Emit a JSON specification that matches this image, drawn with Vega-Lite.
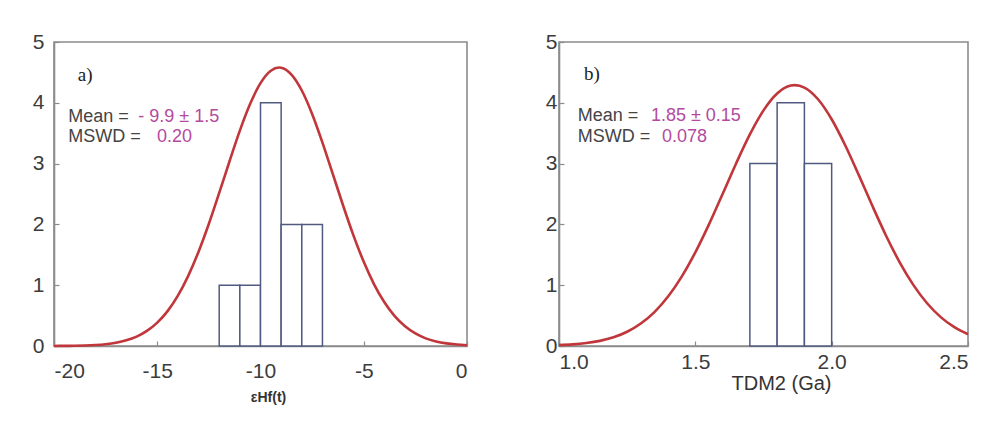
{
  "$schema": "https://vega.github.io/schema/vega-lite/v6.json",
  "background": "white",
  "padding": {"left": 31, "top": 30, "right": 4, "bottom": 4},
  "spacing": 71,
  "config": {
    "font": "Liberation Sans",
    "view": {"stroke": "#8c8c8c", "strokeWidth": 1.6},
    "axis": {
      "grid": false,
      "domainColor": "#8c8c8c",
      "domainWidth": 1.6,
      "tickColor": "#8c8c8c",
      "tickWidth": 1.2,
      "tickSize": -5,
      "labelFontSize": 21,
      "labelColor": "#3c3c3c",
      "labelFont": "Liberation Sans",
      "titleColor": "#333333",
      "titleFont": "Liberation Sans"
    }
  },
  "datasets": {
    "binsA": [
      {"x0": -12, "x1": -11, "count": 1},
      {"x0": -11, "x1": -10, "count": 1},
      {"x0": -10, "x1": -9, "count": 4},
      {"x0": -9, "x1": -8, "count": 2},
      {"x0": -8, "x1": -7, "count": 2}
    ],
    "binsB": [
      {"x0": 1.7, "x1": 1.8, "count": 3},
      {"x0": 1.8, "x1": 1.9, "count": 4},
      {"x0": 1.9, "x1": 2.0, "count": 3}
    ],
    "curveA": [
      {"x": -20, "y": 0.001}, {"x": -19.5, "y": 0.002}, {"x": -19, "y": 0.004}, {"x": -18.5, "y": 0.008},
      {"x": -18, "y": 0.016}, {"x": -17.5, "y": 0.030}, {"x": -17, "y": 0.054}, {"x": -16.5, "y": 0.093},
      {"x": -16, "y": 0.154}, {"x": -15.5, "y": 0.248}, {"x": -15, "y": 0.384}, {"x": -14.5, "y": 0.574},
      {"x": -14, "y": 0.829}, {"x": -13.5, "y": 1.154}, {"x": -13, "y": 1.551}, {"x": -12.5, "y": 2.011},
      {"x": -12, "y": 2.517}, {"x": -11.5, "y": 3.039}, {"x": -11, "y": 3.542}, {"x": -10.5, "y": 3.983},
      {"x": -10, "y": 4.324}, {"x": -9.5, "y": 4.528}, {"x": -9.1, "y": 4.58}, {"x": -9, "y": 4.577},
      {"x": -8.5, "y": 4.464}, {"x": -8, "y": 4.202}, {"x": -7.5, "y": 3.817}, {"x": -7, "y": 3.346},
      {"x": -6.5, "y": 2.830}, {"x": -6, "y": 2.311}, {"x": -5.5, "y": 1.820}, {"x": -5, "y": 1.384},
      {"x": -4.5, "y": 1.015}, {"x": -4, "y": 0.719}, {"x": -3.5, "y": 0.491}, {"x": -3, "y": 0.324},
      {"x": -2.5, "y": 0.206}, {"x": -2, "y": 0.126}, {"x": -1.5, "y": 0.075}, {"x": -1, "y": 0.043},
      {"x": -0.5, "y": 0.024}, {"x": 0, "y": 0.013}
    ],
    "curveB": [
      {"x": 1.0, "y": 0.014}, {"x": 1.05, "y": 0.026}, {"x": 1.1, "y": 0.048}, {"x": 1.15, "y": 0.084},
      {"x": 1.2, "y": 0.143}, {"x": 1.25, "y": 0.234}, {"x": 1.3, "y": 0.369}, {"x": 1.35, "y": 0.558},
      {"x": 1.4, "y": 0.813}, {"x": 1.45, "y": 1.141}, {"x": 1.5, "y": 1.540}, {"x": 1.55, "y": 2.000},
      {"x": 1.6, "y": 2.500}, {"x": 1.65, "y": 3.007}, {"x": 1.7, "y": 3.480}, {"x": 1.75, "y": 3.875},
      {"x": 1.8, "y": 4.153}, {"x": 1.85, "y": 4.283}, {"x": 1.865, "y": 4.29}, {"x": 1.9, "y": 4.250},
      {"x": 1.95, "y": 4.058}, {"x": 2.0, "y": 3.729}, {"x": 2.05, "y": 3.297}, {"x": 2.1, "y": 2.806},
      {"x": 2.15, "y": 2.297}, {"x": 2.2, "y": 1.810}, {"x": 2.25, "y": 1.372}, {"x": 2.3, "y": 1.001},
      {"x": 2.35, "y": 0.703}, {"x": 2.4, "y": 0.475}, {"x": 2.45, "y": 0.309}, {"x": 2.5, "y": 0.193}
    ],
    "textA": [
      {"x": -19.31, "y": 3.77, "text": "Mean =", "kind": "label"},
      {"x": -15.92, "y": 3.77, "text": "- 9.9 ± 1.5", "kind": "value"},
      {"x": -19.31, "y": 3.43, "text": "MSWD =", "kind": "label"},
      {"x": -15.01, "y": 3.43, "text": "0.20", "kind": "value"}
    ],
    "textB": [
      {"x": 1.069, "y": 3.78, "text": "Mean =", "kind": "label"},
      {"x": 1.337, "y": 3.78, "text": "1.85 ± 0.15", "kind": "value"},
      {"x": 1.069, "y": 3.43, "text": "MSWD =", "kind": "label"},
      {"x": 1.378, "y": 3.43, "text": "0.078", "kind": "value"}
    ],
    "panelA": [{"x": -18.85, "y": 4.46, "text": "a)"}],
    "panelB": [{"x": 1.092, "y": 4.48, "text": "b)"}]
  },
  "hconcat": [
    {
      "width": 413,
      "height": 304,
      "layer": [
        {
          "data": {"name": "binsA"},
          "mark": {"type": "rect", "fill": "white", "stroke": "#505a80", "strokeWidth": 1.5},
          "encoding": {
            "x": {"field": "x0", "type": "quantitative",
              "scale": {"domain": [-20, 0], "nice": false, "zero": false},
              "axis": {"values": [-20, -15, -10, -5, 0], "labelExpr": "'' + datum.value", "labelPadding": 19, "title": "εHf(t)", "titleFontSize": 14, "titleFontWeight": "bold", "titlePadding": 9, "titleX": 214}},
            "x2": {"field": "x1"},
            "y": {"field": "count", "type": "quantitative",
              "scale": {"domain": [0, 5], "nice": false},
              "axis": {"values": [0, 1, 2, 3, 4, 5], "labelExpr": "'' + datum.value", "labelPadding": 15, "title": null}},
            "y2": {"datum": 0}
          }
        },
        {
          "data": {"name": "curveA"},
          "mark": {"type": "line", "color": "#c0363a", "strokeWidth": 2.6, "interpolate": "monotone"},
          "encoding": {
            "x": {"field": "x", "type": "quantitative"},
            "y": {"field": "y", "type": "quantitative"}
          }
        },
        {
          "data": {"name": "textA"},
          "mark": {"type": "text", "align": "left", "baseline": "middle", "fontSize": 18, "font": "Liberation Sans"},
          "encoding": {
            "x": {"field": "x", "type": "quantitative"},
            "y": {"field": "y", "type": "quantitative"},
            "text": {"field": "text"},
            "color": {"field": "kind", "type": "nominal", "scale": {"domain": ["label", "value"], "range": ["#444444", "#b34aa0"]}, "legend": null}
          }
        },
        {
          "data": {"name": "panelA"},
          "mark": {"type": "text", "align": "left", "baseline": "middle", "fontSize": 19, "font": "Liberation Serif", "color": "#222222"},
          "encoding": {
            "x": {"field": "x", "type": "quantitative"},
            "y": {"field": "y", "type": "quantitative"},
            "text": {"field": "text"}
          }
        }
      ]
    },
    {
      "width": 409,
      "height": 304,
      "layer": [
        {
          "data": {"name": "binsB"},
          "mark": {"type": "rect", "fill": "white", "stroke": "#505a80", "strokeWidth": 1.5},
          "encoding": {
            "x": {"field": "x0", "type": "quantitative",
              "scale": {"domain": [1.0, 2.5], "nice": false, "zero": false},
              "axis": {"values": [1.0, 1.5, 2.0, 2.5], "format": ".1f", "labelPadding": 10, "title": "TDM2 (Ga)", "titleFontSize": 20, "titleFontWeight": "normal", "titlePadding": 1, "titleX": 222}},
            "x2": {"field": "x1"},
            "y": {"field": "count", "type": "quantitative",
              "scale": {"domain": [0, 5], "nice": false},
              "axis": {"values": [0, 1, 2, 3, 4, 5], "labelExpr": "'' + datum.value", "labelPadding": 7, "title": null}},
            "y2": {"datum": 0}
          }
        },
        {
          "data": {"name": "curveB"},
          "mark": {"type": "line", "color": "#c0363a", "strokeWidth": 2.6, "interpolate": "monotone"},
          "encoding": {
            "x": {"field": "x", "type": "quantitative"},
            "y": {"field": "y", "type": "quantitative"}
          }
        },
        {
          "data": {"name": "textB"},
          "mark": {"type": "text", "align": "left", "baseline": "middle", "fontSize": 18, "font": "Liberation Sans"},
          "encoding": {
            "x": {"field": "x", "type": "quantitative"},
            "y": {"field": "y", "type": "quantitative"},
            "text": {"field": "text"},
            "color": {"field": "kind", "type": "nominal", "scale": {"domain": ["label", "value"], "range": ["#444444", "#b34aa0"]}, "legend": null}
          }
        },
        {
          "data": {"name": "panelB"},
          "mark": {"type": "text", "align": "left", "baseline": "middle", "fontSize": 19, "font": "Liberation Serif", "color": "#222222"},
          "encoding": {
            "x": {"field": "x", "type": "quantitative"},
            "y": {"field": "y", "type": "quantitative"},
            "text": {"field": "text"}
          }
        }
      ]
    }
  ]
}
